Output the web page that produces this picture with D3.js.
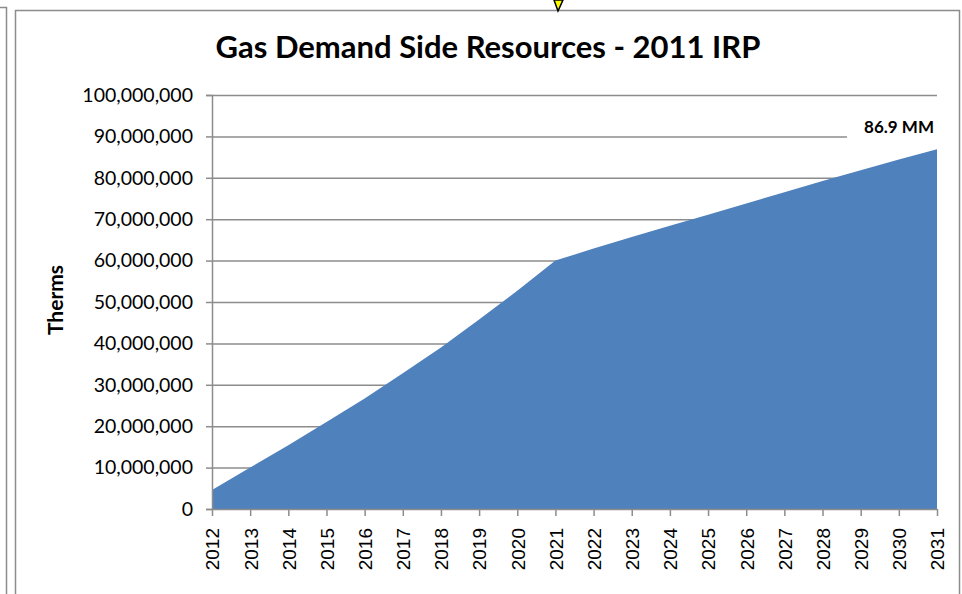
<!DOCTYPE html>
<meta charset="utf-8">
<style>
body { margin: 0; background: white; }
text { font-family: Lato, "Open Sans", sans-serif; fill: #000; }
.xaxis text { font-family: "Liberation Sans", Arial, sans-serif; }
</style>
<body>
<script src="https://d3js.org/d3.v7.min.js"></script>
<script>

var years = [2012, 2013, 2014, 2015, 2016, 2017, 2018, 2019, 2020, 2021,
             2022, 2023, 2024, 2025, 2026, 2027, 2028, 2029, 2030, 2031];
var therms = [4.6e6, 10.0e6, 15.4e6, 21.0e6, 26.7e6, 32.8e6, 39.0e6, 45.8e6, 52.7e6, 60.0e6,
              62.9e6, 65.7e6, 68.4e6, 71.1e6, 73.8e6, 76.5e6, 79.2e6, 81.8e6, 84.4e6, 86.9e6];
var yTicks = [0, 10e6, 20e6, 30e6, 40e6, 50e6, 60e6, 70e6, 80e6, 90e6, 100e6];
var chartTitle = "Gas Demand Side Resources - 2011 IRP";
var yTitle = "Therms";
var endLabel = "86.9 MM";

var width = 962,
    height = 594;

var svg = d3.select("body").append("svg")
    .attr("width", width)
    .attr("height", height);

// neighbouring frame on the left + chart frame
svg.append("path")
    .attr("d", "M0,7.5H6.5V594")
    .attr("fill", "none")
    .attr("stroke", "#8c8c8c")
    .attr("stroke-width", 1.5);
svg.append("rect")
    .attr("x", 15.5).attr("y", 10.5)
    .attr("width", 944).attr("height", 600)
    .attr("fill", "white")
    .attr("stroke", "#8c8c8c")
    .attr("stroke-width", 1.5);

// bit of the callout arrow poking in at the top
svg.append("path")
    .attr("d", "M554,0L563,0L558,11Z")
    .attr("fill", "#ffff00")
    .attr("stroke", "#000")
    .attr("stroke-width", 1.5);

var x = d3.scaleLinear()
    .domain([2012, 2031])
    .range([212, 937]);

var y = d3.scaleLinear()
    .domain([0, 100e6])
    .range([509, 95]);

// gridlines
svg.append("g")
    .attr("transform", "translate(212,0)")
    .call(d3.axisLeft(y).tickValues(yTicks.slice(1)).tickSize(-725).tickFormat(""))
    .call(g => g.select(".domain").remove())
    .selectAll("line")
    .attr("stroke", "#8c8c8c")
    .attr("stroke-width", 1.5);

var area = d3.area()
    .x((d, i) => x(years[i]))
    .y0(y(0))
    .y1(d => y(d));

svg.append("path")
    .datum(therms)
    .attr("fill", "#4f81bd")
    .attr("d", area);

// y axis
var yAxis = svg.append("g")
    .attr("transform", "translate(212,0)")
    .call(d3.axisLeft(y).tickValues(yTicks).tickSize(6).tickPadding(13)
        .tickFormat(d3.format(",")));
yAxis.select(".domain").attr("stroke", "#8c8c8c").attr("stroke-width", 1.5);
yAxis.selectAll("line").attr("stroke", "#8c8c8c").attr("stroke-width", 1.5);
yAxis.selectAll("text").style("font-size", "19.5px");

// x axis
var xAxis = svg.append("g")
    .attr("class", "xaxis")
    .attr("transform", "translate(0,509)")
    .call(d3.axisBottom(x).tickValues(years).tickSize(7).tickSizeOuter(0)
        .tickFormat(d3.format("d")));
xAxis.select(".domain").attr("stroke", "#8c8c8c").attr("stroke-width", 1.5);
xAxis.selectAll("line").attr("stroke", "#8c8c8c").attr("stroke-width", 1.5);
xAxis.selectAll("text")
    .style("font-size", "19px")
    .attr("transform", "rotate(-90)")
    .attr("text-anchor", "end")
    .attr("x", -19)
    .attr("y", 0)
    .attr("dy", "0.36em");

// titles
svg.append("text")
    .attr("x", 488)
    .attr("y", 58)
    .attr("text-anchor", "middle")
    .style("font-size", "31px")
    .style("font-weight", "bold")
    .text(chartTitle);

svg.append("text")
    .attr("transform", "translate(63,300) rotate(-90)")
    .attr("text-anchor", "middle")
    .style("font-size", "21px")
    .style("font-weight", "bold")
    .text(yTitle);

// end-of-series label
var last = therms.length - 1;
svg.append("rect")
    .attr("x", 847).attr("y", 117)
    .attr("width", 91).attr("height", 24)
    .attr("fill", "white");
svg.append("text")
    .attr("x", x(years[last]) - 3)
    .attr("y", y(therms[last]) - 16)
    .attr("text-anchor", "end")
    .style("font-size", "17px")
    .style("font-weight", "bold")
    .text(endLabel);

</script>
</body>
</html>
